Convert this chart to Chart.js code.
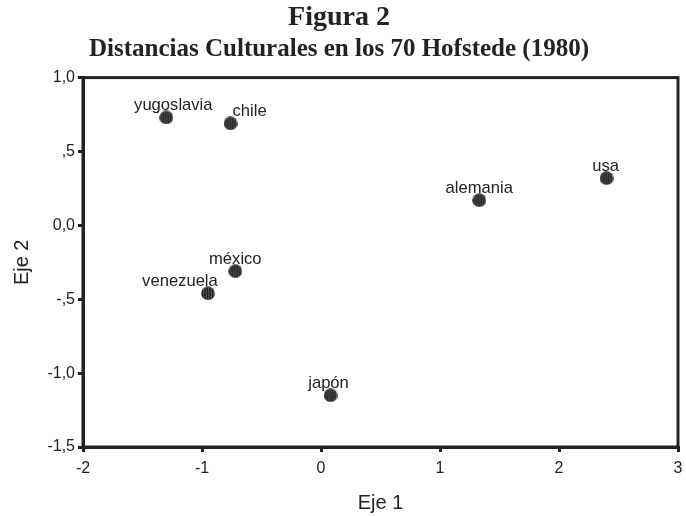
<!DOCTYPE html>
<html lang="es">
<head>
    <meta charset="UTF-8">
    <title>Figura 2</title>
    <style>
        body { margin: 0; background: #fff; }
        .chart-container { width: 686px; height: 517px; }
    </style>
    <script src="https://cdn.jsdelivr.net/npm/chart.js"></script>
</head>
<body>
    <div class="chart-container">
        <canvas id="mapChart"></canvas>
    </div>

    <script>
        // data
        const countries = ['yugoslavia', 'chile', 'alemania', 'usa', 'méxico', 'venezuela', 'japón'];
        const eje1 = [-1.30, -0.76, 1.33, 2.40, -0.72, -0.95, 0.08];
        const eje2 = [0.73, 0.69, 0.17, 0.32, -0.31, -0.46, -1.15];
        const xTickLabels = ['-2', '-1', '0', '1', '2', '3'];
        const yTickLabels = ['-1,5', '-1,0', '-,5', '0,0', ',5', '1,0'];

        const ink = '#222';
        const sans = '"Liberation Sans", Arial, sans-serif';
        const serif = '"Liberation Serif", "Times New Roman", serif';

        // striped round marker like the SPSS one
        function makeMarker() {
            const c = document.createElement('canvas');
            c.width = 14; c.height = 14;
            const g = c.getContext('2d');
            g.beginPath();
            g.arc(7, 7, 6.8, 0, Math.PI * 2);
            g.fillStyle = '#1e1e1e';
            g.fill();
            g.save();
            g.clip();
            g.strokeStyle = '#6e6e6e';
            g.lineWidth = 0.8;
            for (let x = 2.5; x < 13; x += 2.5) {
                g.beginPath();
                g.moveTo(x, 0);
                g.lineTo(x + 0.6, 14);
                g.stroke();
            }
            g.restore();
            return c;
        }

        // horizontal nudge of each name (style only)
        const labelShift = { yugoslavia: 7, chile: 19, alemania: 0, usa: -1, 'méxico': 0, venezuela: -28, 'japón': -2 };

        const pointNames = {
            id: 'pointNames',
            afterDatasetsDraw(chart) {
                const ctx = chart.ctx;
                const meta = chart.getDatasetMeta(0);
                ctx.save();
                ctx.font = '16.6px ' + sans;
                ctx.fillStyle = ink;
                ctx.textAlign = 'center';
                ctx.textBaseline = 'alphabetic';
                meta.data.forEach((pt, i) => {
                    const name = countries[i];
                    ctx.fillText(name, pt.x + (labelShift[name] || 0), pt.y - 7);
                });
                ctx.restore();
            }
        };

        const frame = {
            id: 'frame',
            afterDraw(chart) {
                const a = chart.chartArea;
                const ctx = chart.ctx;
                ctx.save();
                ctx.strokeStyle = ink;
                ctx.lineWidth = 3;
                ctx.strokeRect(a.left, a.top, a.right - a.left, a.bottom - a.top);
                ctx.restore();
            }
        };

        const ctx = document.getElementById('mapChart').getContext('2d');
        const marker = makeMarker();

        new Chart(ctx, {
            type: 'scatter',
            data: {
                datasets: [{
                    data: countries.map((c, i) => ({ x: eje1[i], y: eje2[i] })),
                    pointStyle: marker,
                    pointRadius: 7,
                    pointHoverRadius: 7
                }]
            },
            options: {
                responsive: true,
                maintainAspectRatio: false,
                animation: false,
                layout: { padding: { left: 0, right: 8, top: 0, bottom: 0 } },
                plugins: {
                    legend: { display: false },
                    tooltip: { enabled: false },
                    title: {
                        display: true,
                        text: 'Figura 2',
                        color: ink,
                        font: { family: serif, size: 28, weight: 'bold', lineHeight: 1.2 },
                        padding: { top: 1, bottom: 0 }
                    },
                    subtitle: {
                        display: true,
                        text: 'Distancias Culturales en los 70 Hofstede (1980)',
                        color: ink,
                        font: { family: serif, size: 25, weight: 'bold', lineHeight: 1.2 },
                        padding: { top: 0, bottom: 13 }
                    }
                },
                scales: {
                    x: {
                        type: 'linear',
                        min: -2,
                        max: 3,
                        ticks: {
                            stepSize: 1,
                            color: ink,
                            padding: 7,
                            font: { family: sans, size: 16 },
                            callback: (v, i) => xTickLabels[i]
                        },
                        grid: { drawOnChartArea: false, color: ink, lineWidth: 3, tickLength: 5 },
                        border: { display: true, color: ink, width: 3 },
                        title: {
                            display: true,
                            text: 'Eje 1',
                            color: ink,
                            font: { family: sans, size: 20 },
                            padding: { top: 0, bottom: 2 }
                        },
                        afterFit(scale) {
                            scale.height = 70;
                            scale.paddingLeft = 0;
                            scale.paddingRight = 0;
                        }
                    },
                    y: {
                        type: 'linear',
                        min: -1.5,
                        max: 1.0,
                        ticks: {
                            stepSize: 0.5,
                            color: ink,
                            padding: 3,
                            font: { family: sans, size: 16 },
                            callback: (v, i) => yTickLabels[i]
                        },
                        grid: { drawOnChartArea: false, color: ink, lineWidth: 3, tickLength: 5 },
                        border: { display: true, color: ink, width: 3 },
                        title: {
                            display: true,
                            text: 'Eje 2',
                            color: ink,
                            font: { family: sans, size: 20 },
                            padding: { top: 10, bottom: 0 }
                        },
                        afterFit(scale) { scale.width = 83; }
                    }
                }
            },
            plugins: [pointNames, frame]
        });
    </script>
</body>
</html>
